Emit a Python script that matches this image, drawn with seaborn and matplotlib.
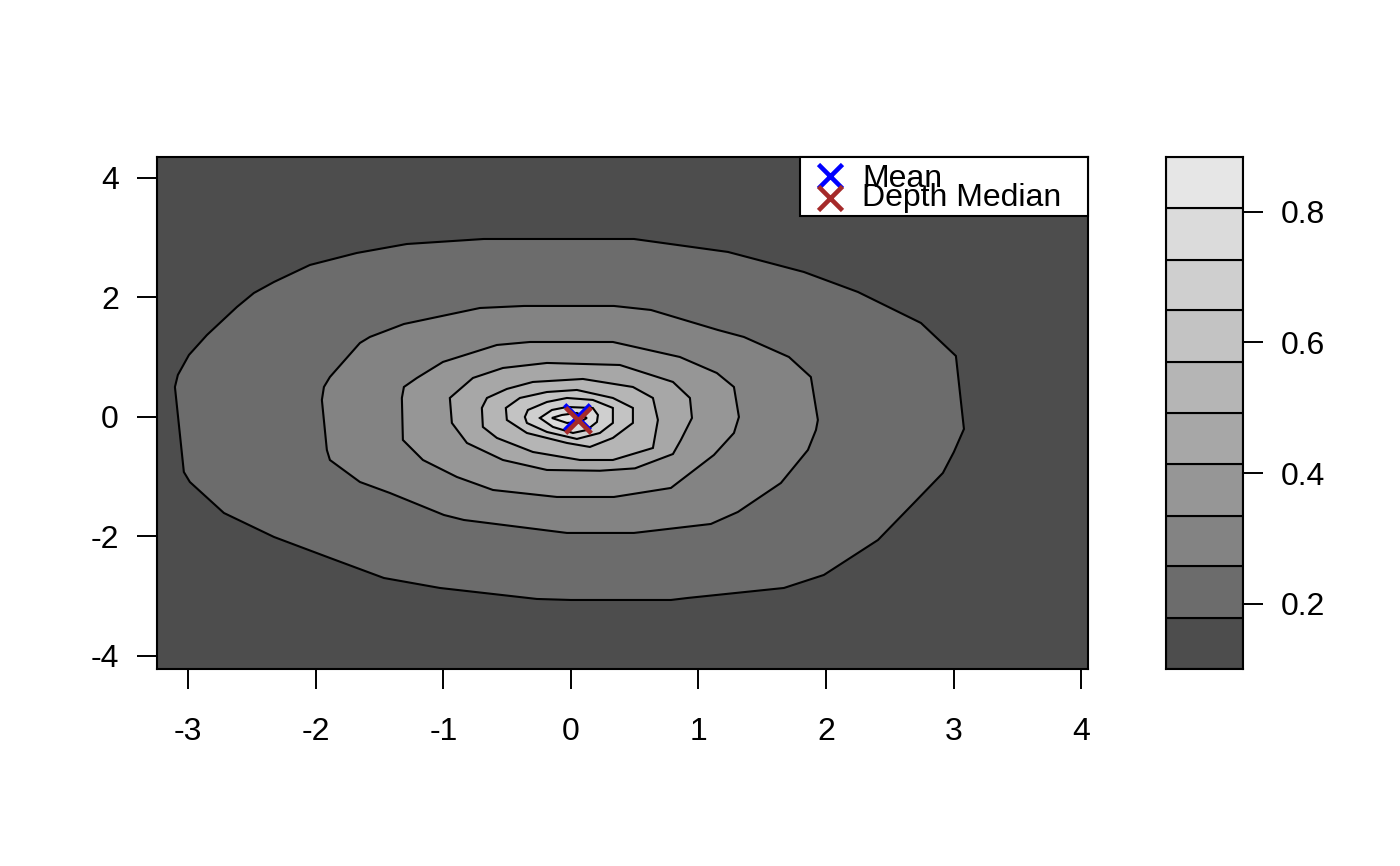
import numpy as np
import matplotlib
matplotlib.use("Agg")
import matplotlib.pyplot as plt
from matplotlib.patches import Rectangle
import seaborn as sns

# depth levels (10 bands) shown in the key
levels = [0.100, 0.178, 0.257, 0.335, 0.414, 0.492, 0.570, 0.649, 0.727, 0.806, 0.884]
key_ticks = [0.2, 0.4, 0.6, 0.8]

# contour lines of the depth surface (outer to inner)
c1_x = [-3.104, -3.081, -2.994, -2.853, -2.618, -2.485, -2.328, -2.046, -1.678, -1.286, -0.682, 0.0, 0.494,
        1.231, 1.826, 2.250, 2.744, 3.018, 3.081, 3.002, 2.916, 2.704, 2.407, 1.983, 1.670, 0.917, 0.784,
        0.0, -0.267, -1.027, -1.466, -1.889, -2.328, -2.720, -2.987, -3.034]
c1_y = [0.502, 0.703, 1.038, 1.372, 1.841, 2.075, 2.259, 2.544, 2.745, 2.895, 2.979, 2.979, 2.979,
        2.762, 2.427, 2.092, 1.573, 1.021, -0.201, -0.586, -0.937, -1.406, -2.059, -2.644, -2.862, -3.029, -3.063,
        -3.063, -3.046, -2.862, -2.695, -2.360, -2.008, -1.607, -1.088, -0.921]
c2_x = [-1.952, -1.936, -1.889, -1.654, -1.576, -1.309, -0.713, -0.368, 0.337, 0.627, 1.152, 1.356, 1.709,
        1.881, 1.936, 1.921, 1.858, 1.646, 1.309, 1.097, 0.494, -0.031, -0.839, -0.996, -1.419, -1.654,
        -1.889, -1.913]
c2_y = [0.285, 0.502, 0.669, 1.238, 1.339, 1.556, 1.824, 1.858, 1.858, 1.791, 1.456, 1.339, 1.004,
        0.669, -0.050, -0.218, -0.552, -1.105, -1.590, -1.791, -1.941, -1.941, -1.724, -1.640, -1.272, -1.088,
        -0.720, -0.552]
c3_x = [-1.325, -1.309, -1.207, -1.003, -0.580, -0.321, 0.329, 0.854, 1.144, 1.278, 1.317, 1.278, 1.121,
        0.784, 0.337, -0.110, -0.611, -0.894, -1.160, -1.317]
c3_y = [0.318, 0.502, 0.653, 0.921, 1.205, 1.255, 1.255, 1.004, 0.736, 0.502, 0.0, -0.268, -0.636,
        -1.188, -1.339, -1.339, -1.222, -1.004, -0.720, -0.385]
c4_x = [-0.949, -0.933, -0.815, -0.533, -0.188, 0.227, 0.502, 0.800, 0.862, 0.949, 0.933, 0.800, 0.384,
        -0.188, -0.533, -0.768]
c4_y = [0.318, -0.100, -0.435, -0.720, -0.887, -0.900, -0.860, -0.620, -0.385, -0.017, 0.318, 0.586, 0.870,
        0.904, 0.820, 0.653]
c5_x = [-0.698, -0.690, -0.580, -0.298, 0.071, 0.329, 0.643, 0.682, 0.643, 0.486, 0.094, -0.298, -0.502, -0.658]
c5_y = [0.151, -0.167, -0.351, -0.586, -0.720, -0.720, -0.519, -0.050, 0.318, 0.502, 0.636, 0.586, 0.469, 0.318]
c6_x = [-0.510, -0.502, -0.345, -0.031, 0.149, 0.329, 0.486, 0.486, 0.329, 0.047, -0.188, -0.400]
c6_y = [0.151, -0.050, -0.268, -0.435, -0.502, -0.351, -0.100, 0.151, 0.318, 0.452, 0.418, 0.318]
c7_x = [-0.361, -0.345, -0.188, 0.047, 0.227, 0.329, 0.329, 0.172, -0.031, -0.188, -0.337]
c7_y = [0.0, -0.100, -0.251, -0.368, -0.268, -0.100, 0.151, 0.285, 0.318, 0.251, 0.117]
c8_x = [-0.243, -0.149, -0.031, 0.172, 0.212, 0.204, 0.125, 0.016, -0.141]
c8_y = [-0.017, 0.117, 0.167, 0.150, 0.033, -0.084, -0.218, -0.268, -0.167]
c9_x = [-0.149, -0.071, 0.047, 0.125, 0.071, -0.031]
c9_y = [-0.017, 0.033, 0.067, -0.017, -0.084, -0.100]

contours_x = [c1_x, c2_x, c3_x, c4_x, c5_x, c6_x, c7_x, c8_x, c9_x]
contours_y = [c1_y, c2_y, c3_y, c4_y, c5_y, c6_y, c7_y, c8_y, c9_y]

mean_pt = [0.047, 0.0]
median_pt = [0.055, -0.05]
legend_labels = ["Mean", "Depth Median"]
legend_colors = ["blue", "brown"]

# gray.colors(10) style palette
g = np.linspace(0.3 ** 2.2, 0.9 ** 2.2, len(levels) - 1) ** (1 / 2.2)
band_colors = [(v, v, v) for v in g]

sns.set_style("ticks")
plt.rcParams['font.family'] = ['Liberation Sans', 'DejaVu Sans']
plt.rcParams['font.size'] = 23
plt.rcParams['axes.unicode_minus'] = False
plt.rcParams['text.color'] = 'black'
plt.rcParams['xtick.color'] = 'black'
plt.rcParams['ytick.color'] = 'black'

fig = plt.figure(figsize=(14, 8.66), dpi=100)
ax = fig.add_axes([0.1121, 0.2275, 0.6650, 0.5912])
cax = fig.add_axes([0.8329, 0.2275, 0.0550, 0.5912])

ax.set_facecolor(band_colors[0])
for i, (cx, cy) in enumerate(zip(contours_x, contours_y)):
    ax.fill(cx, cy, facecolor=band_colors[i + 1], edgecolor="black", linewidth=1.5, zorder=2 + i)

sns.scatterplot(x=[mean_pt[0]], y=[mean_pt[1]], marker="x", s=340, color=legend_colors[0],
                linewidth=3.3, ax=ax, zorder=20)
sns.scatterplot(x=[median_pt[0]], y=[median_pt[1]], marker="x", s=340, color=legend_colors[1],
                linewidth=3.3, ax=ax, zorder=21)

ax.set_xlim(-3.245, 4.053)
ax.set_ylim(-4.218, 4.351)
ax.set_xticks(range(-3, 5))
ax.set_yticks(range(-4, 5, 2))
ax.set_xlabel("")
ax.set_ylabel("")
for s in ax.spines.values():
    s.set_linewidth(1.5)
    s.set_color("black")
    s.set_zorder(30)
ax.tick_params(axis="x", length=14.4, width=1.4, pad=20, direction="out")
ax.tick_params(axis="y", length=14.4, width=1.4, pad=13, direction="out")

# R style legend box (entries set tightly, as in the original)
ax.add_patch(Rectangle((0.6907, 0.8848), 0.3093, 0.1152, transform=ax.transAxes,
                       facecolor="white", edgecolor="black", linewidth=1.5, zorder=40, clip_on=False))
row_y = [0.9629, 0.9199]
text_y = [0.9414, 0.9043]
for lab, col, my, ty in zip(legend_labels, legend_colors, row_y, text_y):
    ax.plot([0.7229], [my], marker="x", markersize=17.5, markeredgewidth=3.3, color=col,
            linestyle="none", transform=ax.transAxes, zorder=41, clip_on=False)
    ax.text(0.7572, ty, lab, transform=ax.transAxes, fontsize=23, va="baseline", ha="left",
            color="black", zorder=42)

# colour key
widths = np.diff(levels)
cax.bar(0, widths, bottom=levels[:-1], width=1, color=band_colors, edgecolor="black", linewidth=1.5)
cax.set_xlim(-0.5, 0.5)
cax.set_ylim(levels[0], levels[-1])
cax.set_xticks([])
cax.yaxis.tick_right()
cax.set_yticks(key_ticks)
cax.set_yticklabels([f"{t:.1f}" for t in key_ticks])
cax.tick_params(axis="y", length=14.4, width=1.4, pad=13, direction="out")
for s in cax.spines.values():
    s.set_linewidth(1.5)
    s.set_color("black")

fig.savefig("out.png", dpi=100)
